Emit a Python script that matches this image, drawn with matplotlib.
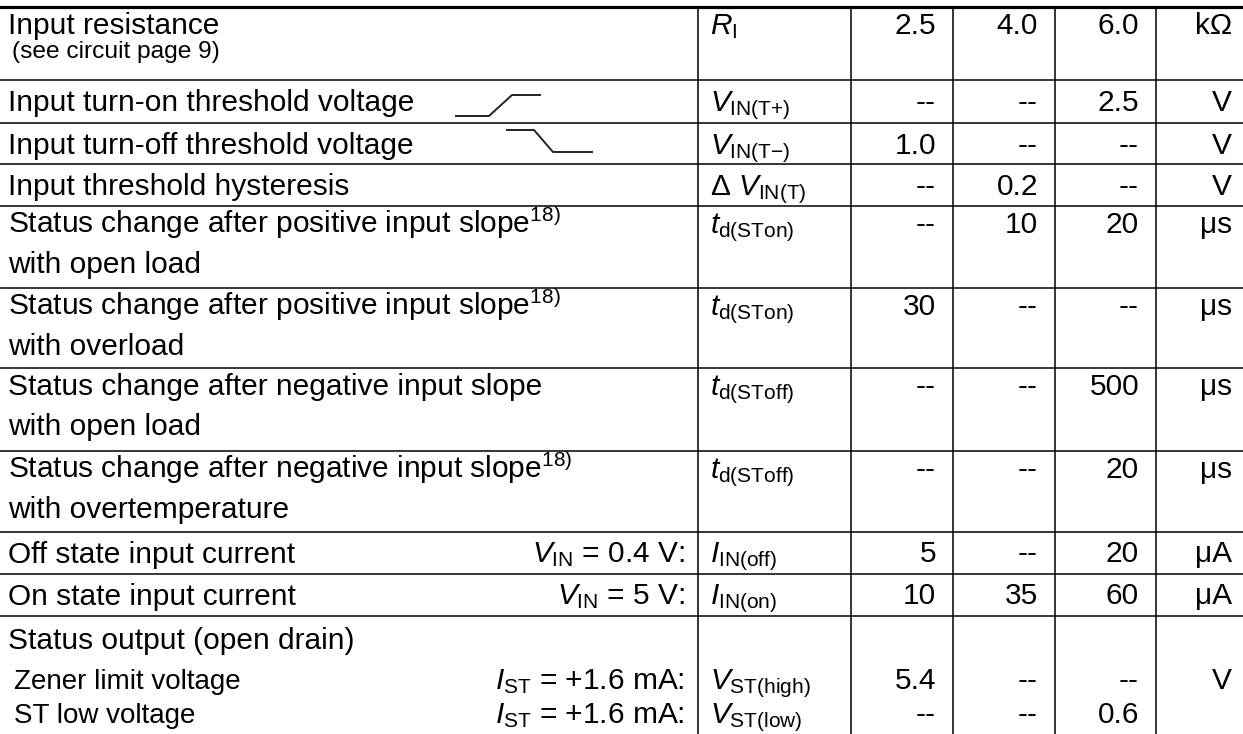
import matplotlib
matplotlib.use("Agg")
import matplotlib.pyplot as plt

plt.rcParams['font.family'] = ['Liberation Sans', 'DejaVu Sans']
plt.rcParams['mathtext.fontset'] = 'custom'
plt.rcParams['mathtext.rm'] = 'Liberation Sans'
plt.rcParams['mathtext.it'] = 'Liberation Sans:italic'
plt.rcParams['mathtext.bf'] = 'Liberation Sans:bold'

# table content
labels = ["Input resistance",
          "Input turn-on threshold voltage",
          "Input turn-off threshold voltage",
          "Input threshold hysteresis",
          "Status change after positive input slope$^{18)}$",
          "Status change after positive input slope$^{18)}$",
          "Status change after negative input slope",
          "Status change after negative input slope$^{18)}$",
          "Off state input current",
          "On state input current",
          "Status output (open drain)"]
sublabels = ["(see circuit page 9)", "", "", "",
             "with open load", "with overload", "with open load",
             "with overtemperature", "", "", ""]

# one entry per value line (status output has two)
names = ["", "", "", "", "", "", "", "", "", "",
         "Zener limit voltage", "ST low voltage"]
conditions = ["", "", "", "", "", "", "", "",
              r"$V_\mathrm{IN}$ = 0.4 V:", r"$V_\mathrm{IN}$ = 5 V:",
              r"$I_\mathrm{ST}$ = +1.6 mA:", r"$I_\mathrm{ST}$ = +1.6 mA:"]
symbols = [r"$R_\mathrm{I}$", r"$V_\mathrm{IN(T{+})}$", r"$V_\mathrm{IN(T{-})}$",
           r"$\Delta\ V_\mathrm{IN(T)}$", r"$t_\mathrm{d(STon)}$",
           r"$t_\mathrm{d(STon)}$", r"$t_\mathrm{d(SToff)}$",
           r"$t_\mathrm{d(SToff)}$", r"$I_\mathrm{IN(off)}$",
           r"$I_\mathrm{IN(on)}$", r"$V_\mathrm{ST(high)}$",
           r"$V_\mathrm{ST(low)}$"]
mins = ["2.5", "--", "1.0", "--", "--", "30", "--", "--", "5", "10", "5.4", "--"]
typs = ["4.0", "--", "--", "0.2", "10", "--", "--", "--", "--", "35", "--", "--"]
maxs = ["6.0", "2.5", "--", "--", "20", "--", "500", "20", "20", "60", "--", "0.6"]
units = ["kΩ", "V", "V", "V", "μs", "μs", "μs", "μs", "μA", "μA", "V", ""]

# layout (pixel coordinates)
W, H = 1243, 734
row_tops = [7, 80, 123, 164, 206, 288, 368, 451, 532, 574, 616]
value_base = [34, 111, 154, 195, 233, 315, 395, 478, 562, 604, 689, 723]
col_x = [698, 851, 953, 1055, 1156]
fs = 21.5

fig = plt.figure(figsize=(W / 100, H / 100), dpi=100)
ax = fig.add_axes([0, 0, 1, 1])
ax.set_xlim(0, W)
ax.set_ylim(H, 0)
ax.axis('off')

# grid lines
ax.plot([0, W], [row_tops[0], row_tops[0]], color='black', lw=2.3)
for y in row_tops[1:]:
    ax.plot([0, W], [y, y], color='black', lw=1.1)
for x in col_x:
    ax.plot([x, x], [row_tops[0], H], color='black', lw=1.1)

# parameter names
for i, (lab, sub) in enumerate(zip(labels, sublabels)):
    top = row_tops[i]
    if i == 0:
        ax.text(8, 34, lab, fontsize=fs, va='baseline')
        ax.text(12, 58, sub, fontsize=fs * 0.82, va='baseline')
    elif sub:
        ax.text(8, top + 27, lab, fontsize=fs, va='baseline')
        ax.text(8, top + 67, sub, fontsize=fs, va='baseline')
    elif i == 10:
        ax.text(8, top + 33, lab, fontsize=fs, va='baseline')
    else:
        ax.text(8, top + 31, lab, fontsize=fs, va='baseline')

# threshold slope icons
ax.plot([456, 489, 512, 540], [116, 116, 95, 95], color='#222222', lw=1.4)
ax.plot([507, 534, 553, 592], [130, 130, 152, 152], color='#222222', lw=1.4)

# value lines
for j in range(len(symbols)):
    yb = value_base[j]
    if names[j]:
        ax.text(14, yb, names[j], fontsize=fs * 0.93, va='baseline')
    if conditions[j]:
        ax.text(685, yb, conditions[j], fontsize=fs, va='baseline', ha='right')
    ax.text(710, yb, symbols[j], fontsize=fs, va='baseline')
    for k, v in enumerate([mins[j], typs[j], maxs[j]]):
        ax.text(col_x[k + 2] - 17, yb, v, fontsize=fs, va='baseline', ha='right')
    ax.text(1232, yb, units[j], fontsize=fs, va='baseline', ha='right')

fig.savefig('out.png', dpi=100)
